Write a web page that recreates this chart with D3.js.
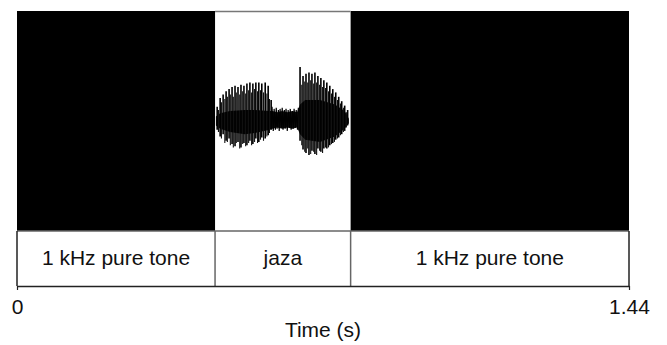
<!DOCTYPE html>
<html>
<head>
<meta charset="utf-8">
<script src="https://cdn.jsdelivr.net/npm/d3@7"></script>
<style>
  body { margin: 0; background: #fff; }
  svg { display: block; font-family: "Liberation Sans", Arial, sans-serif; }
</style>
</head>
<body>
<svg id="chart" width="667" height="345"></svg>
<script>
// segments of the stimulus (seconds)
const segmentLabels = ['1 kHz pure tone', 'jaza', '1 kHz pure tone'];
const segmentStarts = [0, 0.466, 0.785];
const segmentEnds = [0.466, 0.785, 1.44];
const segmentIsTone = [true, false, true];

const tickValues = [0, 1.44];
const tickLabels = ['0', '1.44'];

// speech waveform: glottal pulses (time, peak, trough)
const pulseTimes = [0.471, 0.478, 0.485, 0.492, 0.499, 0.506, 0.513, 0.520, 0.527, 0.534,
  0.541, 0.548, 0.555, 0.562, 0.569, 0.576, 0.584, 0.591, 0.598,
  0.666, 0.673, 0.680, 0.687, 0.694, 0.701, 0.708, 0.715, 0.722, 0.729,
  0.736, 0.743, 0.750, 0.757, 0.764, 0.771, 0.778];
const pulsePeaks = [0.13, 0.21, 0.24, 0.27, 0.29, 0.31, 0.32, 0.31, 0.33, 0.32,
  0.34, 0.35, 0.34, 0.35, 0.35, 0.34, 0.35, 0.32, 0.19,
  0.49, 0.41, 0.43, 0.44, 0.43, 0.44, 0.41, 0.39, 0.37, 0.35,
  0.32, 0.29, 0.26, 0.22, 0.18, 0.14, 0.10];
const pulseTroughs = [-0.08, -0.14, -0.12, -0.18, -0.16, -0.21, -0.23, -0.19, -0.24, -0.20,
  -0.22, -0.18, -0.21, -0.16, -0.19, -0.15, -0.16, -0.13, -0.08,
  -0.18, -0.26, -0.29, -0.31, -0.27, -0.30, -0.25, -0.28, -0.25, -0.25,
  -0.22, -0.20, -0.17, -0.15, -0.12, -0.09, -0.04];

// smaller oscillations between the pulses
const minorTimes = [0.474, 0.481, 0.489, 0.495, 0.502, 0.509, 0.516, 0.524, 0.531, 0.538,
  0.545, 0.552, 0.559, 0.566, 0.573, 0.580, 0.588, 0.594,
  0.670, 0.677, 0.684, 0.691, 0.698, 0.705, 0.712, 0.719, 0.726, 0.733,
  0.740, 0.747, 0.754, 0.761, 0.768, 0.775];
const minorPeaks = [0.10, 0.17, 0.20, 0.22, 0.24, 0.22, 0.26, 0.24, 0.27, 0.25,
  0.28, 0.26, 0.29, 0.27, 0.28, 0.26, 0.25, 0.20,
  0.33, 0.36, 0.35, 0.37, 0.34, 0.35, 0.33, 0.31, 0.30, 0.27,
  0.25, 0.22, 0.19, 0.16, 0.12, 0.08];
const minorTroughs = [-0.10, -0.16, -0.20, -0.19, -0.22, -0.24, -0.20, -0.25, -0.21, -0.23,
  -0.20, -0.22, -0.19, -0.20, -0.17, -0.18, -0.14, -0.11,
  -0.22, -0.28, -0.25, -0.30, -0.28, -0.31, -0.27, -0.29, -0.24, -0.24,
  -0.21, -0.19, -0.16, -0.13, -0.10, -0.06];

// dense core of the waveform (envelope of the darkest band)
const coreTimes = [0.468, 0.478, 0.501, 0.536, 0.560, 0.595, 0.601,
  0.612, 0.624, 0.636, 0.648, 0.659, 0.666, 0.678, 0.713, 0.748, 0.771, 0.781];
const coreUpper = [0.04, 0.07, 0.09, 0.10, 0.10, 0.09, 0.09,
  0.08, 0.09, 0.08, 0.09, 0.08, 0.15, 0.19, 0.19, 0.15, 0.09, 0.02];
const coreLower = [-0.04, -0.07, -0.10, -0.12, -0.11, -0.08, -0.07,
  -0.06, -0.07, -0.06, -0.07, -0.06, -0.12, -0.17, -0.19, -0.14, -0.07, -0.02];

// fricative noise between the vowels
const noiseTimes = [0.600, 0.603, 0.605, 0.608, 0.610, 0.612, 0.615, 0.617, 0.619, 0.622,
  0.624, 0.626, 0.629, 0.631, 0.633, 0.636, 0.638, 0.641, 0.643, 0.645,
  0.648, 0.650, 0.652, 0.655, 0.657, 0.660, 0.662];
const noiseValues = [0.13, -0.09, 0.11, -0.08, 0.12, -0.07, 0.10, -0.09, 0.11, -0.06,
  0.12, -0.08, 0.10, -0.07, 0.11, -0.09, 0.10, -0.06, 0.11, -0.08,
  0.09, -0.07, 0.11, -0.06, 0.10, -0.08, 0.12];

const svg = d3.select('#chart');
const plotTop = 11, waveBottom = 231, rowBottom = 286;

const x = d3.scaleLinear().domain([0, 1.44]).range([17, 629]);
const y = d3.scaleLinear().domain([-1, 1]).range([waveBottom, plotTop]);

const segments = segmentLabels.map((label, i) => ({
  label, start: segmentStarts[i], end: segmentEnds[i], tone: segmentIsTone[i]
}));

// tone blocks
svg.selectAll('rect.tone')
  .data(segments.filter(d => d.tone))
  .enter().append('rect')
  .attr('class', 'tone')
  .attr('x', d => x(d.start))
  .attr('y', plotTop)
  .attr('width', d => x(d.end) - x(d.start))
  .attr('height', waveBottom - plotTop)
  .attr('fill', '#000');

// top border over the speech part
svg.append('line')
  .attr('x1', x(segmentStarts[1])).attr('x2', x(segmentEnds[1]))
  .attr('y1', plotTop + 0.5).attr('y2', plotTop + 0.5)
  .attr('stroke', '#777').attr('stroke-width', 1.5);

// waveform core
const core = coreTimes.map((t, i) => ({ t, hi: coreUpper[i], lo: coreLower[i] }));
svg.append('path')
  .datum(core)
  .attr('fill', '#111')
  .attr('d', d3.area().x(d => x(d.t)).y0(d => y(d.lo)).y1(d => y(d.hi)));

const noise = noiseTimes.map((t, i) => ({ t, v: noiseValues[i] }));
svg.append('path')
  .datum(noise)
  .attr('fill', 'none')
  .attr('stroke', '#000')
  .attr('stroke-width', 1.2)
  .attr('d', d3.line().x(d => x(d.t)).y(d => y(d.v)));

const minor = minorTimes.map((t, i) => ({ t, hi: minorPeaks[i], lo: minorTroughs[i] }));
svg.selectAll('line.minor')
  .data(minor)
  .enter().append('line')
  .attr('class', 'minor')
  .attr('x1', d => x(d.t)).attr('x2', d => x(d.t))
  .attr('y1', d => y(d.hi)).attr('y2', d => y(d.lo))
  .attr('stroke', '#111')
  .attr('stroke-width', 1.1);

const pulses = pulseTimes.map((t, i) => ({ t, hi: pulsePeaks[i], lo: pulseTroughs[i] }));
svg.selectAll('line.pulse')
  .data(pulses)
  .enter().append('line')
  .attr('class', 'pulse')
  .attr('x1', d => x(d.t)).attr('x2', d => x(d.t))
  .attr('y1', d => y(d.hi)).attr('y2', d => y(d.lo))
  .attr('stroke', '#000')
  .attr('stroke-width', 1.6);

// label row
svg.append('line')
  .attr('x1', x(0)).attr('x2', x(1.44))
  .attr('y1', waveBottom).attr('y2', waveBottom)
  .attr('stroke', '#666').attr('stroke-width', 1.5);

svg.selectAll('line.divider')
  .data(segmentStarts.slice(1))
  .enter().append('line')
  .attr('class', 'divider')
  .attr('x1', d => x(d)).attr('x2', d => x(d))
  .attr('y1', waveBottom).attr('y2', rowBottom)
  .attr('stroke', '#666').attr('stroke-width', 1.5);

svg.selectAll('line.edge')
  .data([0, 1.44])
  .enter().append('line')
  .attr('class', 'edge')
  .attr('x1', d => x(d)).attr('x2', d => x(d))
  .attr('y1', waveBottom).attr('y2', rowBottom)
  .attr('stroke', '#222').attr('stroke-width', 1.5);

svg.selectAll('text.seg')
  .data(segments)
  .enter().append('text')
  .attr('class', 'seg')
  .attr('x', d => x((d.start + d.end) / 2))
  .attr('y', 265)
  .attr('text-anchor', 'middle')
  .attr('font-size', 21)
  .attr('fill', '#111')
  .text(d => d.label);

// time axis
const axis = d3.axisBottom(x)
  .tickValues(tickValues)
  .tickFormat((d, i) => tickLabels[i])
  .tickSizeInner(4)
  .tickSizeOuter(0)
  .tickPadding(9);

const g = svg.append('g')
  .attr('transform', `translate(0,${rowBottom})`)
  .call(axis);
g.select('.domain').attr('stroke', '#222').attr('stroke-width', 1.5);
g.selectAll('.tick line').attr('stroke', '#222').attr('stroke-width', 1.2);
g.selectAll('.tick text')
  .attr('font-size', 21)
  .attr('font-family', '"Liberation Sans", Arial, sans-serif')
  .attr('fill', '#111');

svg.append('text')
  .attr('x', (x(0) + x(1.44)) / 2)
  .attr('y', 337)
  .attr('text-anchor', 'middle')
  .attr('font-size', 21)
  .attr('fill', '#111')
  .text('Time (s)');
</script>
</body>
</html>
